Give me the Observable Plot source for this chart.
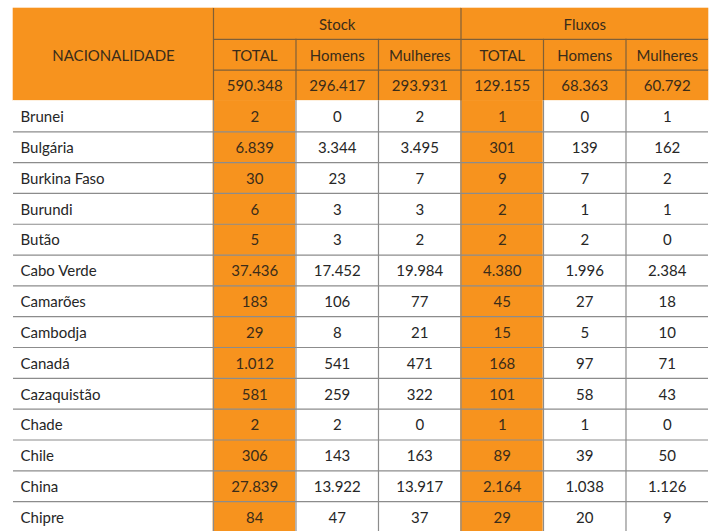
<!DOCTYPE html>
<html><head><meta charset="utf-8">
<script src="https://cdn.jsdelivr.net/npm/d3@7"></script>
<script src="https://cdn.jsdelivr.net/npm/@observablehq/plot@0.6"></script>
<style>body{margin:0;background:#fff;} #chart svg{display:block;}</style>
</head><body><div id="chart"></div><script>
// ---- data ----
const nationalities = ["Brunei","Bulgária","Burkina Faso","Burundi","Butão","Cabo Verde","Camarões","Cambodja","Canadá","Cazaquistão","Chade","Chile","China","Chipre"];
const stockTotal    = [2, 6839, 30, 6, 5, 37436, 183, 29, 1012, 581, 2, 306, 27839, 84];
const stockHomens   = [0, 3344, 23, 3, 3, 17452, 106, 8, 541, 259, 2, 143, 13922, 47];
const stockMulheres = [2, 3495, 7, 3, 2, 19984, 77, 21, 471, 322, 0, 163, 13917, 37];
const fluxTotal     = [1, 301, 9, 2, 2, 4380, 45, 15, 168, 101, 1, 89, 2164, 29];
const fluxHomens    = [0, 139, 7, 1, 2, 1996, 27, 5, 97, 58, 1, 39, 1038, 20];
const fluxMulheres  = [1, 162, 2, 1, 0, 2384, 18, 10, 71, 43, 0, 50, 1126, 9];
const firstHeader = "NACIONALIDADE";
const groupLabels = ["Stock", "Fluxos"];
const subLabels = ["TOTAL", "Homens", "Mulheres", "TOTAL", "Homens", "Mulheres"];
const headerTotals = [590348, 296417, 293931, 129155, 68363, 60792];

// ---- layout helpers ----
const fmt = d3.formatLocale({decimal: ",", thousands: ".", grouping: [3], currency: ["", ""]}).format(",d");
const colWeights = [2.424, 1, 1, 1, 1, 1, 1];
const edges = [0];
colWeights.forEach(w => edges.push(edges[edges.length - 1] + w));
const nRows = 3 + nationalities.length;
const ORANGE = "#f7931e";
const series = [stockTotal, stockHomens, stockMulheres, fluxTotal, fluxHomens, fluxMulheres];

const cells = [];
cells.push({x1: edges[0], x2: edges[1], y1: 0, y2: 3, fill: ORANGE, text: firstHeader, kind: "head"});
groupLabels.forEach((g, k) => cells.push({x1: edges[1 + 3 * k], x2: edges[4 + 3 * k], y1: 0, y2: 1, fill: ORANGE, text: g, kind: "head"}));
subLabels.forEach((s, j) => cells.push({x1: edges[j + 1], x2: edges[j + 2], y1: 1, y2: 2, fill: ORANGE, text: s, kind: "head"}));
headerTotals.forEach((v, j) => cells.push({x1: edges[j + 1], x2: edges[j + 2], y1: 2, y2: 3, fill: ORANGE, text: fmt(v), kind: "head"}));
nationalities.forEach((n, i) => {
  cells.push({x1: edges[0], x2: edges[1], y1: 3 + i, y2: 4 + i, fill: "#ffffff", text: n, kind: "name"});
  series.forEach((arr, j) => {
    const orange = j === 0 || j === 3;
    cells.push({x1: edges[j + 1], x2: edges[j + 2], y1: 3 + i, y2: 4 + i, fill: orange ? ORANGE : "#ffffff", text: fmt(arr[i]), kind: orange ? "orange" : "plain"});
  });
});

// grid lines
const hLines = [];
[1, 2].forEach(y => hLines.push({y, x1: edges[1], x2: edges[7], c: "#7f5f38"}));
for (let y = 4; y <= nRows; y++) hLines.push({y, x1: edges[0], x2: edges[7], c: "#8c8c8c"});
const vLines = [];
[1, 4].forEach(k => {
  vLines.push({x: edges[k], y1: 0, y2: 3, c: "#7f5f38"});
  vLines.push({x: edges[k], y1: 3, y2: nRows, c: "#8c8c8c"});
});
[2, 3, 5, 6].forEach(k => {
  vLines.push({x: edges[k], y1: 1, y2: 3, c: "#7f5f38"});
  vLines.push({x: edges[k], y1: 3, y2: nRows, c: "#8c8c8c"});
});

const textColor = d => d.kind === "plain" || d.kind === "name" ? "#262626" : "#3a2c1a";

const chart = Plot.plot({
  width: 720, height: 531,
  marginTop: 0, marginBottom: 0, marginLeft: 0, marginRight: 0,
  x: {domain: [0, edges[7]], range: [13, 708], axis: null},
  y: {domain: [0, nRows], range: [8, 8 + 30.82 * nRows], axis: null},
  style: {fontFamily: "Lato, 'Open Sans', sans-serif", fontSize: "15px", background: "#fff"},
  marks: [
    Plot.rect(cells, {x1: "x1", x2: "x2", y1: "y1", y2: "y2", fill: "fill", stroke: "fill", strokeWidth: 0.6}),
    Plot.ruleY(hLines, {y: "y", x1: "x1", x2: "x2", stroke: "c", strokeWidth: 1.2}),
    Plot.ruleX(vLines, {x: "x", y1: "y1", y2: "y2", stroke: "c", strokeWidth: 1.2}),
    Plot.text(cells.filter(d => d.kind !== "name"), {
      x: d => (d.x1 + d.x2) / 2, y: d => (d.y1 + d.y2) / 2, text: "text", dy: 1,
      fill: textColor, fontSize: 15, textAnchor: "middle", lineAnchor: "middle"
    }),
    Plot.text(cells.filter(d => d.kind === "name"), {
      x: "x1", y: d => (d.y1 + d.y2) / 2, text: "text", dx: 7, dy: 1,
      fill: textColor, fontSize: 15, textAnchor: "start", lineAnchor: "middle"
    })
  ]
});
document.getElementById("chart").append(chart);
</script></body></html>
